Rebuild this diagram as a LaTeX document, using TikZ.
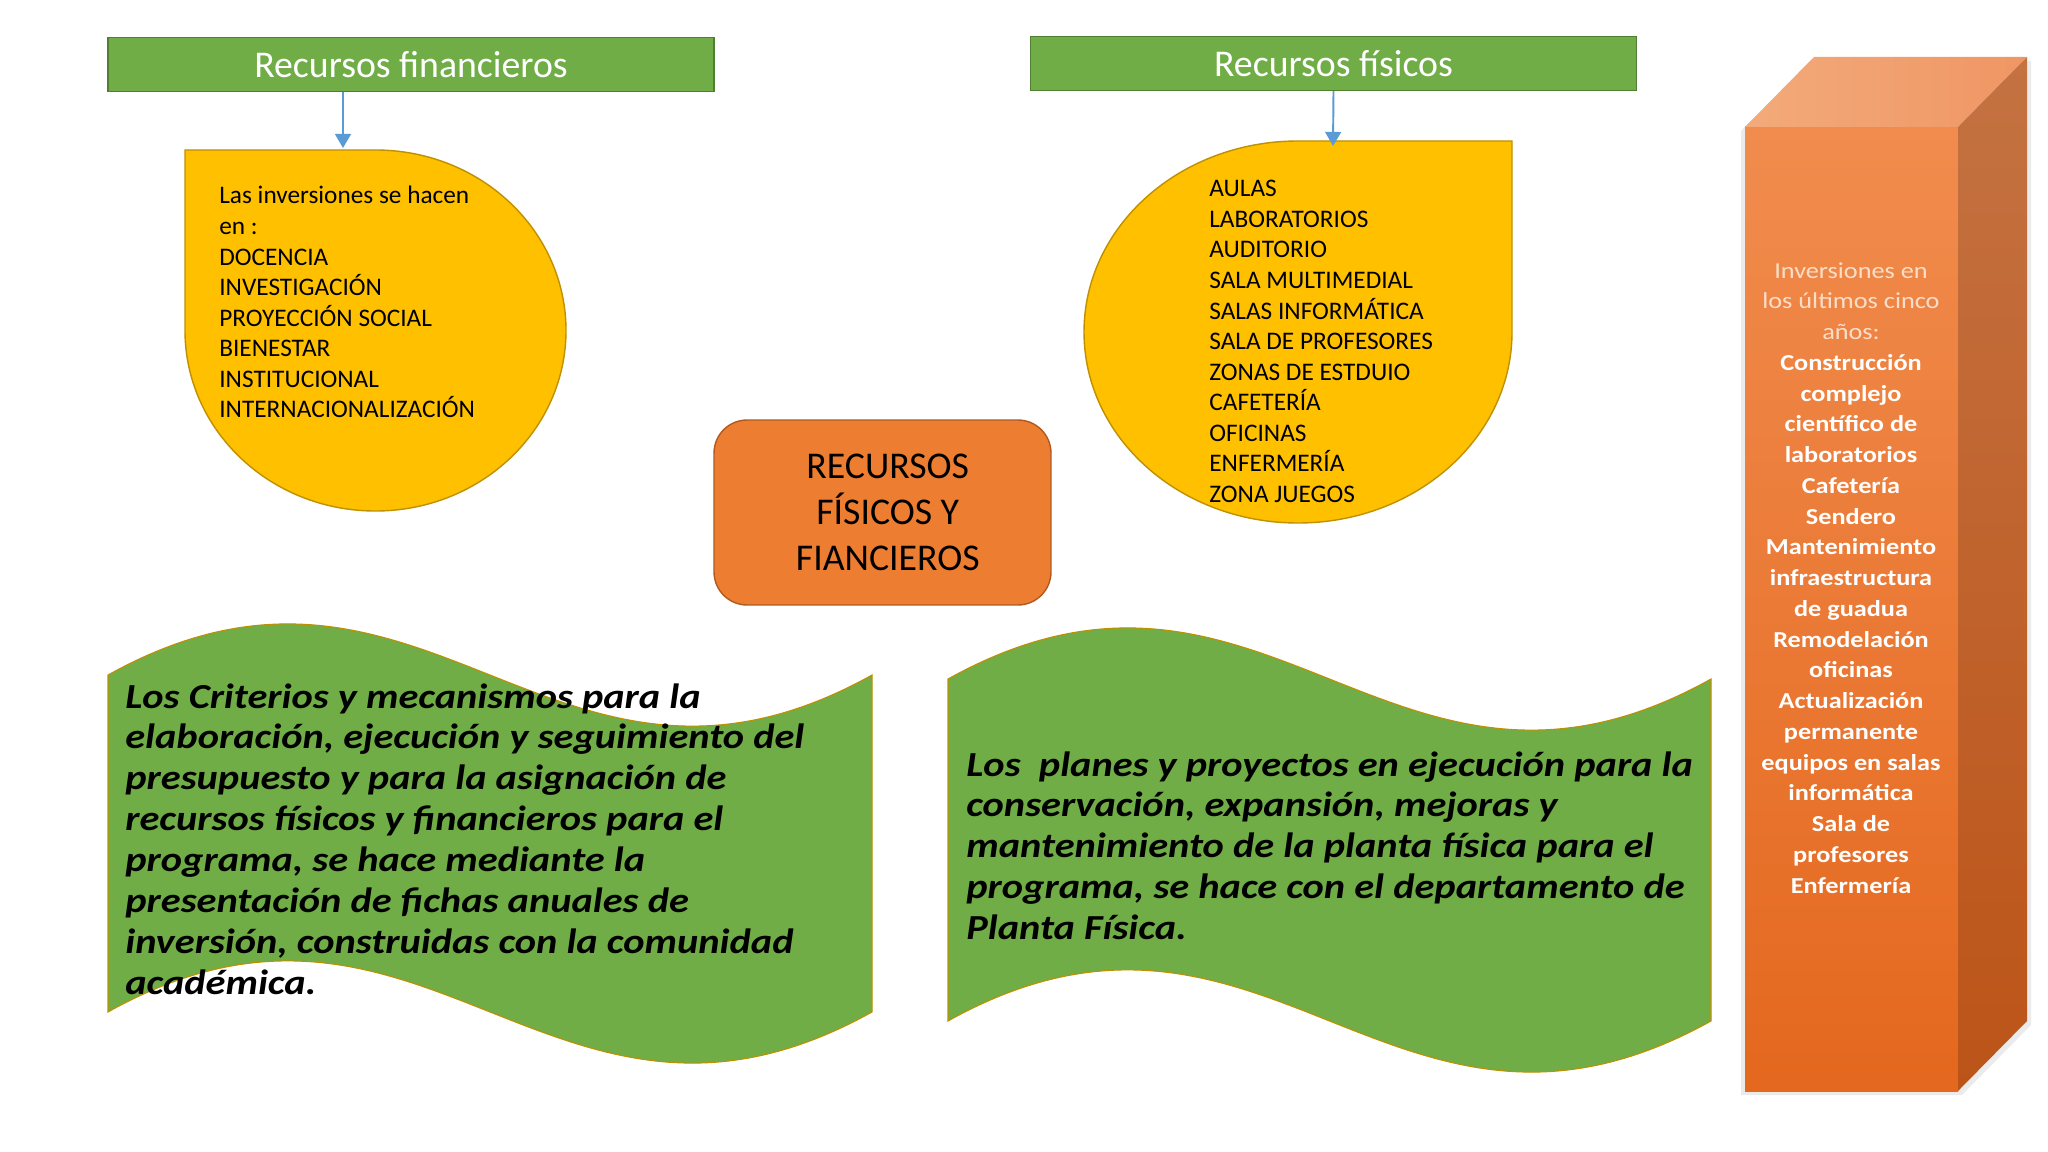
\documentclass[tikz,border=0pt]{standalone}
\usepackage{fontspec}
\setmainfont{Carlito}
\newfontfamily\widefont[FakeStretch=1.15]{Carlito}
\usetikzlibrary{positioning,calc,arrows.meta}

\definecolor{hdrgreen}{HTML}{70AD47}
\definecolor{hdrline}{HTML}{507E32}
\definecolor{dropfill}{HTML}{FFC000}
\definecolor{dropline}{HTML}{BF9000}
\definecolor{boxorange}{HTML}{ED7D31}
\definecolor{boxline}{HTML}{AE5A21}
\definecolor{arrowblue}{HTML}{5B9BD5}
\definecolor{frontTop}{RGB}{241,140,78}
\definecolor{frontBot}{RGB}{228,104,30}
\definecolor{roofA}{RGB}{243,170,122}
\definecolor{roofB}{RGB}{240,150,100}
\definecolor{sideTop}{RGB}{196,114,66}
\definecolor{sideBot}{RGB}{188,84,24}
\definecolor{paletxt}{RGB}{252,222,200}

\begin{document}
\begin{tikzpicture}[x=0.02cm,y=-0.02cm,
  header/.style={rectangle,draw=hdrline,fill=hdrgreen,line width=0.8pt,
                 minimum width=12.12cm,minimum height=1.08cm,text=white,
                 font=\fontsize{21.5}{26}\selectfont},
  drop/.style={draw=dropline,fill=dropfill,line width=0.8pt},
  droptext/.style={align=left,inner sep=0pt,font=\fontsize{14.4}{17.4}\selectfont},
  core/.style={rectangle,rounded corners=0.66cm,draw=boxline,fill=boxorange,
               line width=0.8pt,minimum width=6.74cm,minimum height=3.7cm,
               align=center,font=\fontsize{21.5}{26}\selectfont},
  wave/.style={draw=dropline,fill=hdrgreen,line width=0.6pt},
  wavetext/.style={anchor=north west,align=left,inner sep=0pt,
                   font=\widefont\bfseries\itshape\fontsize{20}{23.3}\selectfont},
  prismtext/.style={anchor=north,align=center,inner sep=0pt,text=white,
                    font=\widefont\fontsize{13}{17.5}\selectfont},
  arrow/.style={-{Triangle[width=9pt,length=8pt]},line width=1.1pt,arrowblue}
]
\useasboundingbox[fill=white] (0,0) rectangle (2048,1152);

% ===== HEADERS =====
\node[header] (hdrfin) at (411,64.5) {Recursos financieros};
\node[header] (hdrfis) at (1333.5,63.5) {Recursos físicos};

% ===== DROPS =====
\path[drop] (185,150) -- (375.5,150)
  arc[start angle=-90,end angle=180,x radius=190.5,y radius=180.5] -- cycle;
\coordinate (finTop) at (343,148);
\node[droptext,anchor=north west] (txtfin) at (219,186) {Las inversiones se hacen\\en :\\DOCENCIA\\INVESTIGACIÓN\\PROYECCIÓN SOCIAL\\BIENESTAR\\INSTITUCIONAL\\INTERNACIONALIZACIÓN};

\path[drop] (1512,141) -- (1512,332)
  arc[start angle=0,end angle=270,x radius=214,y radius=191] -- cycle;
\coordinate (fisTop) at (1333,146);
\node[droptext,anchor=north west] (txtfis) at (1209,180) {AULAS\\LABORATORIOS\\AUDITORIO\\SALA MULTIMEDIAL\\SALAS INFORMÁTICA\\SALA DE PROFESORES\\ZONAS DE ESTDUIO\\CAFETERÍA\\OFICINAS\\ENFERMERÍA\\ZONA JUEGOS};

\draw[arrow] (finTop |- hdrfin.south) -- (finTop);
\draw[arrow] (hdrfis.south) -- (fisTop);

% ===== CENTER =====
\node[core] (core) at (882.5,512.5) {\hspace*{6pt}RECURSOS\\\hspace*{6pt}FÍSICOS Y\\\hspace*{6pt}FIANCIEROS};

% ===== WAVES =====
\path[wave] (108,675) .. controls (426,498) and (554,852) .. (872,675)
  -- (872,1012) .. controls (554,1189) and (426,835) .. (108,1012) -- cycle;
\node[wavetext] (wavecrit) at (125,683) {Los Criterios y mecanismos para la\\elaboración, ejecución y seguimiento del\\presupuesto y para la asignación de\\recursos físicos y financieros para el\\programa, se hace mediante la\\presentación de fichas anuales de\\inversión, construidas con la comunidad\\académica.};

\path[wave] (948,679) .. controls (1266,502) and (1393,856) .. (1711,679)
  -- (1711,1021) .. controls (1393,1198) and (1266,844) .. (948,1021) -- cycle;
\node[wavetext] (waveplan) at (966,751) {Los\ \ planes y proyectos en ejecución para la\\conservación, expansión, mejoras y\\mantenimiento de la planta física para el\\programa, se hace con el departamento de\\Planta Física.};

% ===== PRISM =====
\fill[black,opacity=0.08] (1741,131) -- (1810,61) -- (2031,61) -- (2031,1025) -- (1962,1095) -- (1741,1095) -- cycle;
\path[top color=frontTop,bottom color=frontBot] (1745,127) rectangle (1958,1091);
\path[left color=roofA,right color=roofB] (1745,127) -- (1814,57) -- (2027,57) -- (1958,127) -- cycle;
\path[top color=sideTop,bottom color=sideBot] (1958,127) -- (2027,57) -- (2027,1021) -- (1958,1091) -- cycle;
\node[prismtext] (invest) at (1851,262) {\color{paletxt}Inversiones en\\\color{paletxt}los últimos cinco\\\color{paletxt}años:\\\bfseries Construcción\\\bfseries complejo\\\bfseries científico de\\\bfseries laboratorios\\\bfseries Cafetería\\\bfseries Sendero\\\bfseries Mantenimiento\\\bfseries infraestructura\\\bfseries de guadua\\\bfseries Remodelación\\\bfseries oficinas\\\bfseries Actualización\\\bfseries permanente\\\bfseries equipos en salas\\\bfseries informática\\\bfseries Sala de\\\bfseries profesores\\\bfseries Enfermería};

\end{tikzpicture}
\end{document}
